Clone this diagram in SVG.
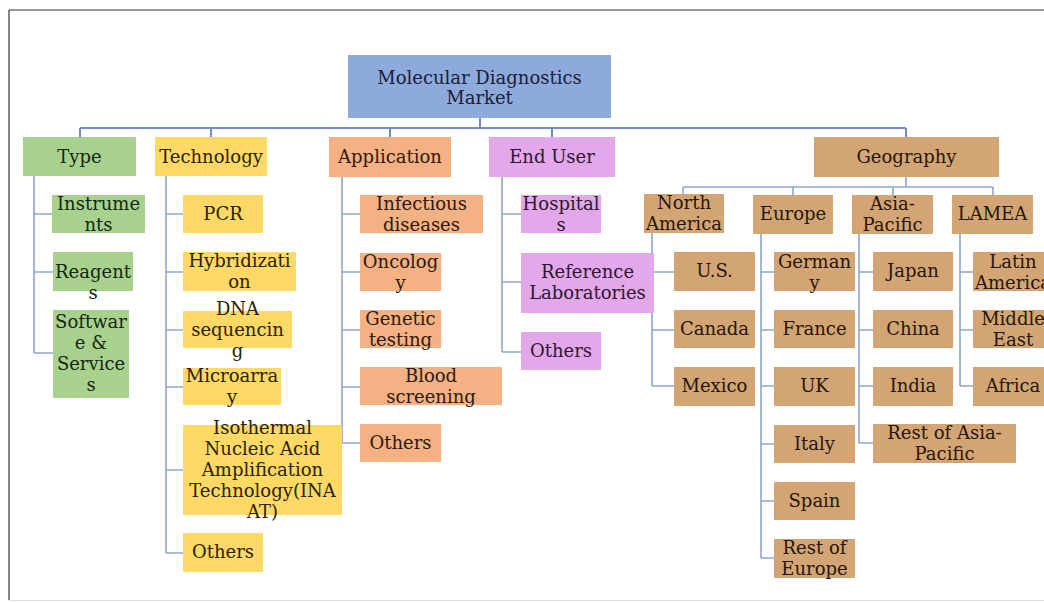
<svg xmlns="http://www.w3.org/2000/svg" width="1044" height="603" viewBox="0 0 1044 603">
<style>
text{font-family:"DejaVu Serif","Liberation Serif",serif;font-size:18px;text-anchor:middle;fill:#222}
.root rect{fill:#8eaadb}.root text{fill:#17213a}
.g rect{fill:#a9d18e}.g text{fill:#15260f}
.y rect{fill:#ffd966}.y text{fill:#2b2205}
.o rect{fill:#f4b183}.o text{fill:#2e190e}
.p rect{fill:#e2a8ea}.p text{fill:#2e1633}
.t rect{fill:#d4a574}.t text{fill:#24160a}
#connectors path{fill:none;stroke:#8ea6cc;stroke-width:1.6}
#connectors path.main{stroke:#6f8fc2;stroke-width:2}
</style>
<rect x="0" y="0" width="1044" height="603" fill="#fff"/>
<path d="M9,10H1044M9,10V600" fill="none" stroke="#333" stroke-width="1.2"/>
<path d="M9,600.5H1044" fill="none" stroke="#ddd" stroke-width="1"/>
<g id="connectors">
<path class="main" d="M480,118V128M80,128H906M80,128V137M211,128V137M390,128V137M552,128V137M906,128V137"/>
<path d="M906,177V187M683,187H993M683,187V195M793,187V195M893,187V195M993,187V195"/>
<path d="M34,176V353M34,214H52M34,272H53M34,353H53"/>
<path d="M166,176V553M166,214H183M166,272H183M166,330H183M166,387H183M166,470H183M166,553H183"/>
<path d="M342,177V443M342,214H360M342,272H360M342,330H360M342,387H360M342,443H360"/>
<path d="M502,177V352M502,214H521M502,282H521M502,352H521"/>
<path d="M652,233V386M652,272H674M652,330H674M652,386H674"/>
<path d="M761,234V558M761,272H774M761,330H774M761,386H774M761,444H774M761,501H774M761,558H774"/>
<path d="M859,234V443M859,272H873M859,330H873M859,386H873M859,443H873"/>
<path d="M960,234V386M960,272H973M960,330H973M960,386H973"/>
</g>
<g id="root" class="root"><rect x="348" y="55" width="263" height="63"/><text x="479.5" y="84">Molecular Diagnostics</text><text x="479.5" y="104">Market</text></g>
<g id="type" class="g"><rect x="23" y="137" width="113" height="39"/><text x="79.5" y="163">Type</text></g>
<g id="technology" class="y"><rect x="155" y="137" width="112" height="39"/><text x="211" y="163">Technology</text></g>
<g id="application" class="o"><rect x="329" y="137" width="122" height="40"/><text x="390" y="163">Application</text></g>
<g id="enduser" class="p"><rect x="489" y="137" width="126" height="40"/><text x="552" y="163">End User</text></g>
<g id="geography" class="t"><rect x="814" y="137" width="185" height="40"/><text x="906.5" y="163">Geography</text></g>

<g id="instruments" class="g"><rect x="52" y="195" width="93" height="38"/><text x="98.5" y="210">Instrume</text><text x="98.5" y="231">nts</text></g>
<g id="reagents" class="g"><rect x="53" y="252" width="80" height="39"/><text x="93" y="278">Reagent</text><text x="93" y="299">s</text></g>
<g id="software" class="g"><rect x="53" y="310" width="76" height="88"/><text x="91" y="328">Softwar</text><text x="91" y="349">e &amp;</text><text x="91" y="370">Service</text><text x="91" y="391">s</text></g>

<g id="pcr" class="y"><rect x="183" y="195" width="80" height="38"/><text x="223" y="220">PCR</text></g>
<g id="hybrid" class="y"><rect x="183" y="252" width="113" height="39"/><text x="239.5" y="267">Hybridizati</text><text x="239.5" y="288">on</text></g>
<g id="dna" class="y"><rect x="183" y="311" width="109" height="37"/><text x="237.5" y="315">DNA</text><text x="237.5" y="336">sequencin</text><text x="237.5" y="357">g</text></g>
<g id="microarray" class="y"><rect x="183" y="368" width="98" height="37"/><text x="232" y="382">Microarra</text><text x="232" y="403">y</text></g>
<g id="inaat" class="y"><rect x="183" y="425" width="159" height="90"/><text x="262.5" y="434">Isothermal</text><text x="262.5" y="455">Nucleic Acid</text><text x="262.5" y="476">Amplification</text><text x="262.5" y="497">Technology(INA</text><text x="262.5" y="518">AT)</text></g>
<g id="techothers" class="y"><rect x="183" y="533" width="80" height="39"/><text x="223" y="558">Others</text></g>

<g id="infectious" class="o"><rect x="360" y="195" width="123" height="38"/><text x="421.5" y="210">Infectious</text><text x="421.5" y="231">diseases</text></g>
<g id="oncology" class="o"><rect x="360" y="253" width="81" height="38"/><text x="400.5" y="268">Oncolog</text><text x="400.5" y="289">y</text></g>
<g id="genetic" class="o"><rect x="360" y="310" width="81" height="38"/><text x="400.5" y="325">Genetic</text><text x="400.5" y="346">testing</text></g>
<g id="blood" class="o"><rect x="360" y="367" width="142" height="38"/><text x="431" y="382">Blood</text><text x="431" y="403">screening</text></g>
<g id="appothers" class="o"><rect x="360" y="424" width="81" height="38"/><text x="400.5" y="449">Others</text></g>

<g id="hospitals" class="p"><rect x="521" y="195" width="80" height="38"/><text x="561" y="210">Hospital</text><text x="561" y="231">s</text></g>
<g id="reflabs" class="p"><rect x="521" y="253" width="133" height="60"/><text x="587.5" y="278">Reference</text><text x="587.5" y="299">Laboratories</text></g>
<g id="euothers" class="p"><rect x="521" y="332" width="80" height="38"/><text x="561" y="357">Others</text></g>

<g id="northamerica" class="t"><rect x="644" y="194" width="80" height="39"/><text x="684" y="209">North</text><text x="684" y="230">America</text></g>
<g id="europe" class="t"><rect x="753" y="195" width="80" height="39"/><text x="793" y="220">Europe</text></g>
<g id="asiapacific" class="t"><rect x="852" y="195" width="81" height="39"/><text x="892.5" y="210">Asia-</text><text x="892.5" y="231">Pacific</text></g>
<g id="lamea" class="t"><rect x="952" y="195" width="81" height="39"/><text x="992.5" y="220">LAMEA</text></g>

<g id="us" class="t"><rect x="674" y="252" width="81" height="39"/><text x="714.5" y="277">U.S.</text></g>
<g id="canada" class="t"><rect x="674" y="310" width="81" height="38"/><text x="714.5" y="335">Canada</text></g>
<g id="mexico" class="t"><rect x="674" y="367" width="81" height="39"/><text x="714.5" y="392">Mexico</text></g>

<g id="germany" class="t"><rect x="774" y="252" width="81" height="39"/><text x="814.5" y="268">German</text><text x="814.5" y="289">y</text></g>
<g id="france" class="t"><rect x="774" y="310" width="81" height="38"/><text x="814.5" y="335">France</text></g>
<g id="uk" class="t"><rect x="774" y="367" width="81" height="39"/><text x="814.5" y="392">UK</text></g>
<g id="italy" class="t"><rect x="774" y="425" width="81" height="38"/><text x="814.5" y="450">Italy</text></g>
<g id="spain" class="t"><rect x="774" y="482" width="81" height="38"/><text x="814.5" y="507">Spain</text></g>
<g id="resteurope" class="t"><rect x="774" y="539" width="81" height="39"/><text x="814.5" y="554">Rest of</text><text x="814.5" y="575">Europe</text></g>

<g id="japan" class="t"><rect x="873" y="252" width="80" height="39"/><text x="913" y="277">Japan</text></g>
<g id="china" class="t"><rect x="873" y="310" width="80" height="38"/><text x="913" y="335">China</text></g>
<g id="india" class="t"><rect x="873" y="367" width="80" height="39"/><text x="913" y="392">India</text></g>
<g id="restasia" class="t"><rect x="873" y="424" width="143" height="39"/><text x="944.5" y="439">Rest of Asia-</text><text x="944.5" y="460">Pacific</text></g>

<g id="latinamerica" class="t"><rect x="973" y="252" width="80" height="39"/><text x="1013" y="268">Latin</text><text x="1013" y="289">America</text></g>
<g id="middleeast" class="t"><rect x="973" y="310" width="80" height="38"/><text x="1013" y="325">Middle</text><text x="1013" y="346">East</text></g>
<g id="africa" class="t"><rect x="973" y="367" width="80" height="39"/><text x="1013" y="392">Africa</text></g>
</svg>
